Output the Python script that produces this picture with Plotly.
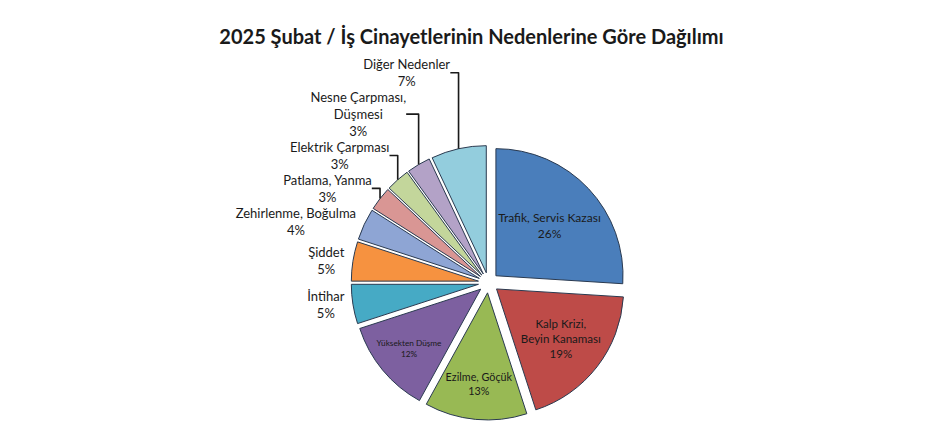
import plotly.graph_objects as go

labels = ["Trafik, Servis Kazası", "Kalp Krizi,<br>Beyin Kanaması", "Ezilme, Göçük", "Yüksekten Düşme",
          "İntihar", "Şiddet", "Zehirlenme, Boğulma", "Patlama, Yanma", "Elektrik Çarpması",
          "Nesne Çarpması,<br>Düşmesi", "Diğer Nedenler"]
values = [26, 19, 13, 12, 5, 5, 4, 3, 3, 3, 7]
colors = ["#4A7EBB", "#BE4B48", "#98B954", "#7D60A0", "#46AAC5", "#F69240",
          "#8EA5D4", "#D99694", "#C3D69B", "#B3A2C7", "#93CDDD"]
positions = ["inside"] * 4 + ["outside"] * 7

fig = go.Figure(go.Pie(
    labels=labels, values=values, sort=False, direction="clockwise", rotation=0,
    marker=dict(colors=colors, line=dict(color="#2a3a50", width=1)),
    pull=[0.08] * len(values),
    texttemplate="%{label}<br>%{percent:.0%}", textposition=positions,
    insidetextorientation="horizontal",
    insidetextfont=dict(color="#1a1a1a", size=13), outsidetextfont=dict(color="#1a1a1a", size=13),
    hoverinfo="label+percent", showlegend=False,
    domain=dict(x=[0.22, 0.78], y=[0.0, 0.78])))

fig.update_layout(
    width=927, height=438, paper_bgcolor="white", plot_bgcolor="white",
    font=dict(family="Lato, Open Sans, sans-serif", size=13, color="#1a1a1a"),
    title=dict(text="<b>2025 Şubat / İş Cinayetlerinin Nedenlerine Göre Dağılımı</b>",
               x=0.5, y=0.95, xanchor="center", font=dict(size=20)),
    margin=dict(l=20, r=20, t=60, b=10))

fig.write_html("out.html")
